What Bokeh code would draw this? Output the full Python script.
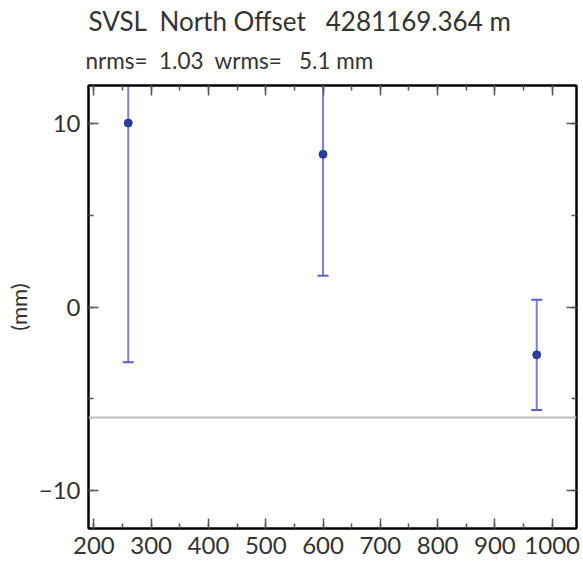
from bokeh.plotting import figure
from bokeh.models import (LinearAxis, Title, Span, SingleIntervalTicker, Range1d,
                          ColumnDataSource, CustomJSTickFormatter)
from bokeh.embed import file_html
from bokeh.resources import INLINE

# ---- data ----
site = "SVSL"
component = "North Offset"
ref_value = "4281169.364 m"
nrms = "1.03"
wrms = "5.1"

x_vals = [260, 600, 973]
y_vals = [10.0, 8.3, -2.6]
y_err = [13.0, 6.6, 3.0]
ref_level = -6.0

x_lo, x_hi = 190.6, 1042.4
y_lo, y_hi = -12.04, 12.04

FONT = "Lato"
TXT = "#333333"
SP = "\u00a0"

src = ColumnDataSource(dict(
    x=x_vals, y=y_vals,
    lo=[v - e for v, e in zip(y_vals, y_err)],
    hi=[v + e for v, e in zip(y_vals, y_err)],
))

p = figure(width=583, height=565, output_backend="svg", toolbar_location=None,
           x_range=Range1d(x_lo, x_hi), y_range=Range1d(y_lo, y_hi),
           min_border_left=88, min_border_right=7, min_border_bottom=37, min_border_top=85,
           x_axis_location=None, y_axis_location=None)
p.grid.visible = False
p.outline_line_color = "black"
p.outline_line_width = 2
p.background_fill_color = "white"
p.border_fill_color = "white"


def style(ax, labels=True):
    ax.axis_line_color = "black"
    ax.axis_line_width = 2
    ax.major_tick_in = 10
    ax.major_tick_out = 0
    ax.minor_tick_in = 5
    ax.minor_tick_out = 0
    ax.major_tick_line_color = "#555555"
    ax.minor_tick_line_color = "#555555"
    ax.major_tick_line_width = 1.5
    ax.minor_tick_line_width = 1.5
    ax.major_label_text_font = FONT
    ax.major_label_text_color = TXT
    if labels:
        ax.major_label_text_font_size = "24px"
        ax.major_label_standoff = 8
    else:
        ax.formatter = CustomJSTickFormatter(code="return ''")
        ax.major_label_text_font_size = "1px"
        ax.major_label_standoff = 0


xb = LinearAxis(ticker=SingleIntervalTicker(interval=100, num_minor_ticks=2))
style(xb)
p.add_layout(xb, "below")
yl = LinearAxis(ticker=SingleIntervalTicker(interval=10, num_minor_ticks=2),
                axis_label="(mm)")
style(yl)
yl.axis_label_text_font = FONT
yl.axis_label_text_font_size = "22px"
yl.axis_label_text_font_style = "normal"
yl.axis_label_text_color = TXT
yl.axis_label_standoff = 4
p.add_layout(yl, "left")
xt = LinearAxis(ticker=SingleIntervalTicker(interval=100, num_minor_ticks=2))
style(xt, labels=False)
p.add_layout(xt, "above")
yr = LinearAxis(ticker=SingleIntervalTicker(interval=10, num_minor_ticks=2))
style(yr, labels=False)
p.add_layout(yr, "right")

sub_text = f"nrms={SP}{SP}{nrms}{SP}{SP}wrms={SP}{SP}{SP}{wrms}{SP}mm"
sub = Title(text=sub_text, text_font=FONT, text_font_size="22.5px",
            text_font_style="normal", text_color=TXT, align="left", offset=-3,
            standoff=20, vertical_align="top")
p.add_layout(sub, "above")
main_text = f"{site}{SP}{SP}{component}{SP}{SP}{SP}{ref_value}"
main = Title(text=main_text, text_font=FONT, text_font_size="26px",
             text_font_style="normal", text_color=TXT, align="left", offset=0, standoff=0)
p.add_layout(main, "above")

p.add_layout(Span(location=ref_level, dimension="width", line_color="#bdbdbd", line_width=2))

p.segment(x0="x", y0="lo", x1="x", y1="hi", source=src, line_color="#7f82cf", line_width=2)
p.scatter(x="x", y="lo", source=src, marker="dash", size=11, line_color="#5a5fc0", line_width=2)
p.scatter(x="x", y="hi", source=src, marker="dash", size=11, line_color="#5a5fc0", line_width=2)
p.scatter(x="x", y="y", source=src, marker="circle", size=8, fill_color="#2a3c9c",
          line_color="#2a3c9c")

open("out.html", "w").write(file_html(p, INLINE))
